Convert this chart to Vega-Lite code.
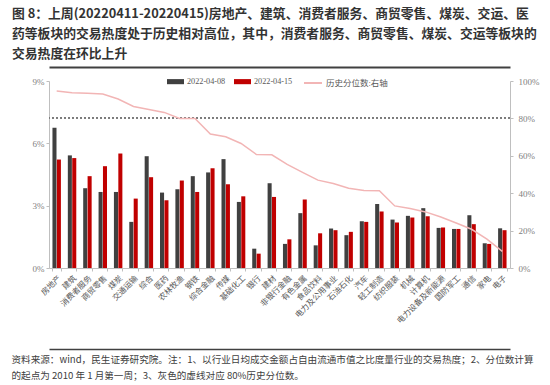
{
  "$schema": "https://vega.github.io/schema/vega-lite/v6.json",
  "width": 461,
  "height": 187,
  "autosize": {"type": "none"},
  "padding": {"left": 49, "top": 81, "right": 40, "bottom": 117},
  "background": "#ffffff",
  "config": {"view": {"stroke": null}},
  "title": {
    "text": ["图 8：上周(20220411-20220415)房地产、建筑、消费者服务、商贸零售、煤炭、交运、医", "药等板块的交易热度处于历史相对高位，其中，消费者服务、商贸零售、煤炭、交运等板块的", "交易热度在环比上升"],
    "anchor": "start",
    "frame": "group",
    "orient": "top",
    "font": "Noto Sans CJK SC",
    "fontSize": 12.8,
    "fontWeight": "bold",
    "color": "#333333",
    "lineHeight": 20,
    "dx": -37,
    "offset": 6
  },
  "datasets": {
    "ind": [
      {"industry": "房地产", "2022-04-08": 6.75, "2022-04-15": 5.22, "pct": 94.6},
      {"industry": "建筑", "2022-04-08": 5.42, "2022-04-15": 5.29, "pct": 93.7},
      {"industry": "消费者服务", "2022-04-08": 3.84, "2022-04-15": 4.42, "pct": 93.4},
      {"industry": "商贸零售", "2022-04-08": 3.66, "2022-04-15": 4.90, "pct": 93.0},
      {"industry": "煤炭", "2022-04-08": 3.66, "2022-04-15": 5.51, "pct": 90.4},
      {"industry": "交通运输", "2022-04-08": 2.22, "2022-04-15": 3.34, "pct": 86.4},
      {"industry": "综合", "2022-04-08": 5.38, "2022-04-15": 4.37, "pct": 84.8},
      {"industry": "医药", "2022-04-08": 3.63, "2022-04-15": 3.26, "pct": 83.2},
      {"industry": "农林牧渔", "2022-04-08": 3.79, "2022-04-15": 4.21, "pct": 80.0},
      {"industry": "钢铁", "2022-04-08": 4.42, "2022-04-15": 3.66, "pct": 80.0},
      {"industry": "综合金融", "2022-04-08": 4.60, "2022-04-15": 4.80, "pct": 71.6},
      {"industry": "传媒", "2022-04-08": 5.24, "2022-04-15": 4.03, "pct": 70.2},
      {"industry": "基础化工", "2022-04-08": 3.18, "2022-04-15": 3.45, "pct": 66.6},
      {"industry": "银行", "2022-04-08": 0.93, "2022-04-15": 0.69, "pct": 60.7},
      {"industry": "建材", "2022-04-08": 4.08, "2022-04-15": 3.42, "pct": 60.5},
      {"industry": "非银行金融", "2022-04-08": 1.16, "2022-04-15": 1.38, "pct": 55.4},
      {"industry": "有色金属", "2022-04-08": 2.64, "2022-04-15": 3.30, "pct": 51.1},
      {"industry": "食品饮料", "2022-04-08": 1.09, "2022-04-15": 1.67, "pct": 47.0},
      {"industry": "电力及公用事业", "2022-04-08": 1.90, "2022-04-15": 1.82, "pct": 45.2},
      {"industry": "石油石化", "2022-04-08": 1.58, "2022-04-15": 1.74, "pct": 42.6},
      {"industry": "汽车", "2022-04-08": 2.25, "2022-04-15": 2.22, "pct": 41.4},
      {"industry": "轻工制造", "2022-04-08": 3.08, "2022-04-15": 2.72, "pct": 41.3},
      {"industry": "纺织服装", "2022-04-08": 2.33, "2022-04-15": 2.19, "pct": 33.2},
      {"industry": "机械", "2022-04-08": 2.51, "2022-04-15": 2.43, "pct": 31.8},
      {"industry": "计算机", "2022-04-08": 2.88, "2022-04-15": 2.49, "pct": 30.0},
      {"industry": "电力设备及新能源", "2022-04-08": 1.93, "2022-04-15": 1.95, "pct": 27.3},
      {"industry": "国防军工", "2022-04-08": 1.88, "2022-04-15": 1.88, "pct": 24.1},
      {"industry": "通信", "2022-04-08": 2.54, "2022-04-15": 2.11, "pct": 20.7},
      {"industry": "家电", "2022-04-08": 1.19, "2022-04-15": 1.16, "pct": 15.4},
      {"industry": "电子", "2022-04-08": 1.91, "2022-04-15": 1.82, "pct": 8.9}
    ]
  },
  "data": {"name": "ind"},
  "layer": [
    {
      "transform": [{"fold": ["2022-04-08", "2022-04-15"], "as": ["date", "value"]}],
      "mark": {"type": "bar"},
      "encoding": {
        "x": {
          "field": "industry", "type": "nominal", "sort": null,
          "scale": {"paddingInner": 0.45, "paddingOuter": 0.225},
          "axis": {
            "orient": "bottom",
            "labelAngle": -45,
            "labelFont": "Noto Sans CJK SC",
            "labelFontSize": 8,
            "labelColor": "#595959",
            "labelPadding": 3,
            "domainColor": "#bfbfbf",
            "tickColor": "#bfbfbf",
            "tickSize": 3,
            "tickBand": "extent",
            "title": ["资料来源：wind，民生证券研究院。注：1、以行业日均成交金额占自由流通市值之比度量行业的交易热度；2、分位数计算", "的起点为 2010 年 1 月第一周；3、灰色的虚线对应 80%历史分位数。"],
            "titleFont": "Noto Sans CJK SC",
            "titleFontSize": 9.6,
            "titleFontWeight": "normal",
            "titleColor": "#404040",
            "titleAnchor": "start",
            "titleAlign": "left",
            "titleBaseline": "top",
            "titleLineHeight": 16.5,
            "titleX": -38,
            "titleY": 86
          }
        },
        "xOffset": {"field": "date", "type": "nominal", "sort": ["2022-04-08", "2022-04-15"], "scale": {"paddingInner": 0.08}},
        "y": {
          "field": "value", "type": "quantitative",
          "scale": {"domain": [0, 9]},
          "axis": {
            "orient": "left",
            "values": [0, 3, 6, 9],
            "labelExpr": "datum.value + '%'",
            "labelFont": "Liberation Serif",
            "labelFontSize": 9,
            "labelColor": "#808080",
            "domainColor": "#bfbfbf",
            "tickColor": "#bfbfbf",
            "tickSize": 3,
            "grid": false,
            "title": null
          }
        },
        "fill": {
          "field": "date", "type": "nominal",
          "scale": {"domain": ["2022-04-08", "2022-04-15"], "range": ["#404040", "#c00000"]},
          "legend": {
            "orient": "none",
            "legendX": 118,
            "legendY": -8,
            "direction": "horizontal",
            "title": null,
            "symbolType": "M-1,-0.3H1V0.3H-1Z",
            "symbolSize": 289,
            "symbolStrokeWidth": 0,
            "labelFont": "Liberation Serif",
            "labelFontSize": 8.2,
            "labelColor": "#595959",
            "labelOffset": 3,
            "columnPadding": 8
          }
        }
      }
    },
    {
      "mark": {"type": "rule", "color": "#7f7f7f", "strokeDash": [2, 2], "strokeWidth": 1},
      "encoding": {
        "y": {"datum": 80, "type": "quantitative", "scale": {"domain": [0, 100]}, "axis": null}
      }
    },
    {
      "mark": {"type": "line", "strokeWidth": 1.5},
      "encoding": {
        "x": {
          "field": "industry", "type": "nominal", "sort": null,
          "scale": {"paddingInner": 0.45, "paddingOuter": 0.225},
          "axis": {"orient": "top", "offset": 14, "domainColor": "#404040", "domainWidth": 2, "labels": false, "ticks": false, "title": null, "grid": false}
        },
        "y": {
          "field": "pct", "type": "quantitative",
          "scale": {"domain": [0, 100]},
          "axis": {
            "orient": "right",
            "values": [0, 20, 40, 60, 80, 100],
            "labelExpr": "datum.value + '%'",
            "labelFont": "Liberation Serif",
            "labelFontSize": 9,
            "labelColor": "#808080",
            "domainColor": "#bfbfbf",
            "tickColor": "#bfbfbf",
            "tickSize": 3,
            "labelPadding": 5,
            "grid": false,
            "title": null
          }
        },
        "stroke": {
          "datum": "历史分位数:右轴",
          "scale": {"range": ["#f2b5b5"]},
          "legend": {
            "orient": "none",
            "legendX": 254,
            "legendY": -8,
            "title": null,
            "symbolType": "stroke",
            "symbolSize": 324,
            "symbolStrokeWidth": 2,
            "labelFont": "Liberation Serif, Noto Sans CJK SC",
            "labelFontSize": 8.5,
            "labelColor": "#595959",
            "labelOffset": 3
          }
        }
      }
    },
    {
      "mark": {"type": "point", "opacity": 0},
      "encoding": {
        "x": {
          "field": "industry", "type": "nominal", "sort": null,
          "scale": {"paddingInner": 0.45, "paddingOuter": 0.225},
          "axis": {"orient": "bottom", "offset": 81, "domainColor": "#404040", "domainWidth": 1.5, "labels": false, "ticks": false, "title": null, "grid": false}
        }
      }
    }
  ],
  "resolve": {"scale": {"y": "independent", "x": "independent"}, "axis": {"x": "independent"}}
}
